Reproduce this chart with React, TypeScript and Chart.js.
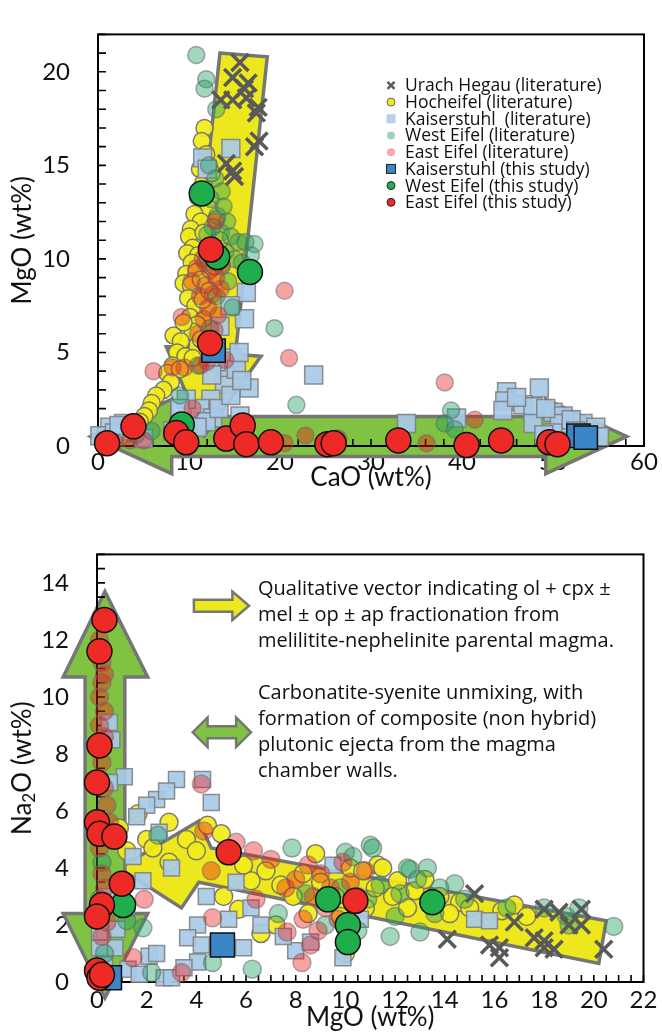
import React, { useEffect, useRef } from 'react';
import { Chart, registerables } from 'chart.js';

Chart.register(...registerables);

type Pt = [number, number];

const FONT = 'Lato, "Open Sans", sans-serif';
const TEXT_FONT = '"Open Sans", Lato, sans-serif';

const seriesNames = [
  'Urach Hegau (literature)',
  'Hocheifel (literature)',
  'Kaiserstuhl  (literature)',
  'West Eifel (literature)',
  'East Eifel (literature)',
  'Kaiserstuhl (this study)',
  'West Eifel (this study)',
  'East Eifel (this study)',
];

// ---------- Top chart: CaO (x) vs MgO (y) ----------
const topUrach: Pt[] = [
  [15.6, 20.5], [14.8, 19.7], [16.5, 19.4], [16.1, 19.1], [13.5, 18.5], [14.8, 18.5], [16.3, 18.6],
  [17.6, 18.1], [17.4, 17.8], [17.7, 16.3], [17.2, 16.0], [14.1, 15.1], [14.8, 14.7], [15.0, 14.4],
];
const topHocheifel: Pt[] = [
  [11.7, 17.0], [11.4, 16.3], [11.9, 15.6], [11.2, 14.8], [11.6, 14.1], [11.0, 13.3], [12.2, 12.7],
  [10.6, 12.4], [11.3, 12.0], [10.2, 11.6], [10.9, 11.1], [10.0, 11.2], [11.6, 11.4], [10.4, 10.6],
  [9.8, 10.3], [11.0, 10.2], [10.3, 9.8], [9.7, 9.2], [10.8, 9.3], [9.4, 8.7], [10.2, 8.6], [11.3, 8.9],
  [9.9, 7.9], [10.7, 7.5], [11.5, 7.8], [10.1, 6.9], [10.9, 6.5], [10.4, 6.1], [9.4, 6.6], [8.3, 5.9],
  [9.1, 5.6], [11.3, 5.7], [8.7, 5.0], [9.6, 4.8], [10.4, 4.7], [8.2, 4.3], [7.6, 3.9], [9.0, 4.1],
  [8.0, 3.4], [7.2, 3.0], [6.4, 2.7], [5.9, 2.3], [5.6, 1.9], [5.1, 1.6], [4.6, 1.3], [3.9, 1.0],
  [3.2, 0.7], [2.4, 0.5], [1.6, 0.3], [13.0, 12.1], [12.8, 9.6], [12.2, 8.3], [13.4, 11.0], [12.5, 14.6],
];
const topKaiserLit: Pt[] = [
  [14.6, 15.9], [11.5, 15.4], [12.0, 14.8], [16.3, 8.2], [16.1, 6.8], [16.6, 3.1], [23.7, 3.8], [13.9, 3.3],
  [12.4, 2.5], [11.2, 2.0], [12.6, 1.5], [9.7, 2.5], [14.1, 4.2], [14.8, 4.7], [13.4, 6.4], [15.2, 4.1],
  [15.5, 5.0], [14.5, 7.5], [1.3, 1.0], [2.8, 1.2], [3.6, 0.8], [9.0, 2.0], [11.9, 1.3], [8.2, 0.8],
  [0.2, 0.55], [5.0, 0.4], [13.3, 2.0], [14.6, 2.7], [15.8, 3.5], [13.0, 4.5], [12.5, 3.8], [15.6, 1.6],
  [10.9, 1.0], [1.8, 0.7], [2.3, 1.1], [48.5, 3.1], [44.9, 2.9], [44.7, 2.4], [44.5, 1.9], [46.7, 2.2],
  [47.8, 2.1], [47.8, 1.2], [50.0, 1.8], [51.1, 1.6], [50.7, 1.2], [50.0, 0.7], [53.3, 1.2], [54.7, 1.0],
  [55.1, 0.5], [33.9, 1.2], [39.4, 1.5], [46.0, 2.6], [49.2, 2.0], [52.0, 1.4], [49.0, 0.6], [52.5, 0.8],
];
const topWestLit: Pt[] = [
  [10.8, 20.9], [11.9, 19.6], [11.7, 19.1], [13.0, 18.0], [12.2, 15.0], [12.9, 14.3], [13.6, 13.6],
  [12.4, 13.2], [13.8, 12.8], [13.1, 12.3], [14.2, 12.0], [12.6, 11.7], [13.5, 11.4], [14.6, 11.2],
  [15.4, 10.9], [16.2, 10.9], [17.2, 10.8], [16.8, 10.2], [14.0, 10.4], [15.0, 10.0], [13.6, 9.6],
  [15.8, 9.8], [14.3, 8.8], [13.0, 8.0], [14.8, 7.4], [12.3, 6.3], [11.0, 4.3], [19.4, 6.3], [21.8, 2.2],
  [38.8, 1.9], [38.1, 1.2], [39.2, 0.9], [5.9, 0.8], [0.6, 0.15], [9.0, 2.7], [4.2, 0.6], [11.8, 9.8],
  [12.0, 11.3],
];
const topEastLit: Pt[] = [
  [20.5, 8.3], [21.0, 4.7], [38.1, 3.4], [41.4, 1.4], [9.2, 6.9], [6.1, 4.0], [5.0, 0.3], [22.8, 0.56],
  [20.5, 0.15], [26.4, 0.4], [36.1, 0.15], [10.4, 2.0], [3.5, 0.3], [1.8, 0.2], [11.5, 10.0], [12.3, 9.4],
  [13.0, 9.0], [11.8, 8.6], [12.6, 8.1], [13.5, 8.4], [11.2, 8.0], [12.1, 7.4], [13.2, 7.0], [11.6, 6.8],
  [12.8, 6.2], [11.0, 6.0], [10.3, 8.8], [10.8, 9.5], [13.6, 9.7], [12.9, 12.0], [14.0, 4.6], [12.0, 4.5],
  [11.3, 4.3], [9.5, 4.2], [8.2, 4.2],
];
const topKaiserStudy: Pt[] = [[12.7, 5.1], [52.8, 0.55], [53.6, 0.45]];
const topWestStudy: Pt[] = [[11.4, 13.5], [13.1, 10.1], [16.7, 9.3], [9.2, 1.15]];
const topEastStudy: Pt[] = [
  [12.4, 10.5], [12.3, 5.5], [8.6, 0.7], [9.7, 0.2], [14.1, 0.4], [15.9, 1.1], [16.3, 0.1], [19.0, 0.2],
  [25.2, 0.1], [25.9, 0.15], [33.0, 0.3], [40.5, 0.05], [44.3, 0.3], [49.6, 0.2], [50.5, 0.1], [1.0, 0.15],
  [3.9, 1.05],
];

// ---------- Bottom chart: MgO (x) vs Na2O (y) ----------
const botUrach: Pt[] = [
  [15.2, 3.1], [16.8, 2.1], [14.1, 1.5], [15.8, 1.3], [16.2, 1.2], [16.2, 0.85], [18.0, 2.55], [18.6, 2.45],
  [17.6, 1.55], [18.0, 1.45], [18.0, 1.2], [18.4, 1.15], [19.0, 2.0], [19.5, 2.55], [19.5, 2.0], [20.4, 1.15],
];
const botHocheifel: Pt[] = [
  [1.65, 5.9], [2.0, 5.0], [2.25, 4.7], [3.6, 5.0], [4.45, 5.5], [5.1, 3.0], [5.7, 2.55], [6.2, 3.55],
  [8.8, 4.5], [10.2, 4.0], [11.3, 4.1], [12.1, 3.55], [16.3, 2.5], [16.8, 2.7], [14.6, 2.8], [12.8, 3.2],
  [11.5, 4.0], [10.7, 3.9], [11.9, 3.0], [2.9, 4.2], [4.0, 4.6], [6.8, 3.9], [7.4, 3.4], [7.9, 3.0],
  [8.3, 3.8], [9.0, 3.5], [9.6, 3.0], [10.0, 1.0], [9.8, 2.3], [10.8, 2.6], [11.2, 3.3], [12.5, 2.6],
  [13.2, 3.6], [13.8, 3.0], [14.2, 2.4], [15.0, 2.6], [17.3, 2.3], [8.5, 2.4], [7.2, 2.0], [6.6, 1.7],
  [5.9, 4.1], [1.2, 4.6], [0.9, 5.4], [2.9, 5.6], [5.0, 5.2],
];
const botKaiserLit: Pt[] = [
  [0.5, 9.1], [1.1, 7.2], [3.2, 7.1], [4.25, 7.1], [4.6, 6.3], [2.4, 6.4], [2.0, 6.2], [1.45, 4.4],
  [3.0, 4.0], [2.5, 5.25], [1.85, 3.55], [4.05, 2.0], [3.65, 1.55], [4.2, 1.3], [4.05, 0.7], [5.3, 2.2],
  [5.9, 1.2], [6.6, 2.0], [0.8, 1.85], [0.72, 1.2], [1.25, 0.45], [1.7, 0.27], [2.7, 0.15], [3.0, 0.15],
  [0.1, 1.2], [0.1, 1.75], [8.0, 1.1], [9.9, 0.85], [15.2, 2.2], [15.8, 2.15], [0.6, 8.5], [0.5, 7.0],
  [1.6, 5.8], [2.8, 6.7], [4.4, 3.0], [5.6, 3.5], [6.2, 2.6], [7.5, 1.6], [8.6, 1.4], [9.5, 4.1],
  [10.6, 2.2], [0.4, 3.0], [0.3, 0.6], [2.1, 0.9], [3.5, 0.5], [1.2, 2.6], [2.4, 1.0],
];
const botWestLit: Pt[] = [
  [11.0, 4.8], [10.0, 4.55], [10.3, 4.4], [13.3, 4.0], [12.6, 3.95], [14.4, 3.45], [18.0, 2.6], [18.9, 2.3],
  [19.4, 2.6], [20.8, 1.95], [11.8, 1.6], [13.0, 1.75], [2.45, 5.15], [1.85, 1.9], [1.2, 2.15], [2.2, 0.33],
  [4.65, 0.68], [6.25, 0.45], [7.3, 2.4], [11.1, 4.7], [12.5, 4.0], [7.85, 4.7], [0.1, 2.9], [0.2, 4.2],
  [0.3, 1.0], [9.2, 2.0], [10.5, 1.8], [12.0, 2.3], [13.6, 2.4], [14.8, 2.9], [11.4, 3.4], [12.2, 3.1],
  [10.9, 2.9], [9.8, 3.3], [8.4, 3.1], [16.5, 2.6], [19.0, 2.0], [12.9, 3.6], [13.8, 3.3],
];
const botEastLit: Pt[] = [
  [0.1, 12.0], [0.2, 10.5], [0.1, 10.0], [0.3, 9.5], [0.1, 9.0], [0.3, 8.6], [0.2, 7.7], [0.3, 6.8],
  [0.4, 6.2], [0.5, 5.6], [0.1, 4.7], [0.2, 3.8], [0.3, 3.3], [0.4, 2.1], [0.2, 1.6], [0.2, 11.2],
  [0.3, 10.8], [1.9, 2.9], [4.65, 2.25], [1.45, 0.85], [3.4, 0.33], [4.3, 5.3], [4.2, 6.95], [8.25, 0.68],
  [7.65, 1.75], [6.4, 2.9], [4.6, 3.9], [8.0, 3.6], [8.5, 4.1], [9.0, 3.8], [9.4, 3.3], [8.7, 3.0],
  [9.2, 2.6], [8.3, 2.2], [9.7, 2.2], [10.2, 3.5], [10.8, 3.9], [9.9, 4.2], [8.9, 1.8], [10.5, 3.0],
  [7.6, 3.3], [8.6, 1.3], [7.0, 4.3], [6.3, 4.6], [5.6, 4.9],
];
const botKaiserStudy: Pt[] = [[5.05, 1.3], [0.5, 0.15]];
const botWestStudy: Pt[] = [[1.05, 2.7], [9.3, 2.9], [10.1, 2.0], [10.1, 1.4], [13.5, 2.8]];
const botEastStudy: Pt[] = [
  [0.3, 12.7], [0.1, 11.6], [0.1, 8.3], [0.0, 7.0], [0.0, 5.6], [0.1, 5.2], [0.7, 5.1], [1.0, 3.45],
  [0.2, 2.7], [0.0, 2.3], [0.0, 0.4], [0.1, 0.15], [0.2, 0.25], [5.3, 4.55], [10.4, 2.85],
];

// ---------- Interpretive vectors (data units) ----------
const topYellowArrow: Pt[] = [[13.4, 21.0], [18.6, 20.8], [15.1, 4.9], [17.9, 4.8], [11.7, 0.55], [7.5, 5.3], [9.9, 5.3]];
const topGreenArrow: Pt[] = [
  [-0.8, 0.51], [8.1, 2.5], [8.1, 1.58], [49.2, 1.58], [49.2, 2.5], [58.1, 0.51], [49.2, -1.48], [49.2, -0.56],
  [8.1, -0.56], [8.1, -1.48],
];
const botGreenArrow: Pt[] = [
  [0.32, 13.7], [2.04, 10.7], [1.12, 10.7], [1.12, 2.4], [2.04, 2.4], [0.32, -0.56], [-1.36, 2.4], [-0.48, 2.4],
  [-0.48, 10.7], [-1.36, 10.7],
];
const botYellowArrow: Pt[] = [[20.5, 2.15], [4.6, 4.7], [4.1, 5.65], [0.9, 4.0], [3.4, 2.6], [4.1, 3.5], [20.2, 0.65]];
const noteYellowIcon: Pt[] = [[3.9, 13.41], [5.45, 13.41], [5.45, 13.7], [6.12, 13.2], [5.45, 12.7], [5.45, 12.99], [3.9, 12.99]];
const noteGreenIcon: Pt[] = [
  [3.85, 8.76], [4.45, 9.28], [4.45, 8.97], [5.6, 8.97], [5.6, 9.28], [6.2, 8.76], [5.6, 8.24], [5.6, 8.55],
  [4.45, 8.55], [4.45, 8.24],
];
const noteYellow = ['Qualitative vector indicating ol + cpx \u00b1', 'mel \u00b1 op \u00b1 ap fractionation from', 'melilitite-nephelinite parental magma.'];
const noteGreen = ['Carbonatite-syenite unmixing, with', 'formation of composite (non hybrid)', 'plutonic ejecta from the magma', 'chamber walls.'];

const YELLOW_FILL = 'rgb(237,232,30)';
const GREEN_FILL = 'rgb(128,194,66)';
const ARROW_STROKE = 'rgb(118,118,118)';

type Style = { ps: string; bg: string; bd: string; bw: number; order: number };
const baseStyles: Style[] = [
  { ps: 'crossRot', bg: '#595959', bd: '#595959', bw: 3.5, order: 3 },
  { ps: 'circle', bg: 'rgba(242,236,24,0.92)', bd: 'rgba(110,110,110,0.9)', bw: 1.5, order: 7 },
  { ps: 'rect', bg: 'rgba(168,202,232,0.92)', bd: 'rgba(125,125,125,0.85)', bw: 1.5, order: 6 },
  { ps: 'circle', bg: 'rgba(30,160,95,0.42)', bd: 'rgba(100,100,100,0.55)', bw: 1.5, order: 5 },
  { ps: 'circle', bg: 'rgba(235,25,25,0.4)', bd: 'rgba(110,110,110,0.55)', bw: 1.5, order: 4 },
  { ps: 'rect', bg: '#3D86C6', bd: '#111', bw: 1.5, order: 2 },
  { ps: 'circle', bg: '#20AE4D', bd: '#111', bw: 1.5, order: 1 },
  { ps: 'circle', bg: '#EE2A26', bd: '#111', bw: 1.5, order: 0 },
];

function buildDatasets(series: Pt[][], radii: number[]) {
  return series.map((pts, i) => {
    const s = baseStyles[i];
    return {
      label: seriesNames[i],
      data: pts.map(([x, y]) => ({ x, y })),
      pointStyle: s.ps,
      pointRadius: radii[i],
      pointHoverRadius: radii[i],
      backgroundColor: s.bg,
      borderColor: s.bd,
      borderWidth: s.bw,
      order: s.order,
      clip: false,
      showLine: false,
    };
  });
}

function polygon(ctx: CanvasRenderingContext2D, chart: any, pts: Pt[], fill: string, lw: number) {
  const { x, y } = chart.scales;
  ctx.beginPath();
  pts.forEach(([a, b], i) => {
    const px = x.getPixelForValue(a);
    const py = y.getPixelForValue(b);
    if (i === 0) ctx.moveTo(px, py);
    else ctx.lineTo(px, py);
  });
  ctx.closePath();
  ctx.fillStyle = fill;
  ctx.fill();
  ctx.lineWidth = lw;
  ctx.strokeStyle = ARROW_STROKE;
  ctx.lineJoin = 'miter';
  ctx.stroke();
}

type DecorCfg = {
  arrows: { pts: Pt[]; fill: string }[];
  xTitle: string;
  yTitle: 'MgO' | 'Na2O';
  xTitleOffset: number;
  legend?: boolean;
  notes?: boolean;
};

const legendMarks = [
  { shape: 'x', fill: '#595959', stroke: '' },
  { shape: 'circle', fill: 'rgb(240,232,30)', stroke: '#666' },
  { shape: 'square', fill: 'rgb(182,208,234)', stroke: '' },
  { shape: 'circle', fill: 'rgb(160,212,186)', stroke: '' },
  { shape: 'circle', fill: 'rgb(244,168,168)', stroke: '' },
  { shape: 'square', fill: '#3D86C6', stroke: '#222' },
  { shape: 'circle', fill: '#20AE4D', stroke: '#222' },
  { shape: 'circle', fill: '#EE2A26', stroke: '#222' },
];

function makeDecor(cfg: DecorCfg) {
  return {
    id: 'decor',
    beforeDatasetsDraw(chart: any) {
      const { ctx, chartArea: a, scales } = chart;
      ctx.save();
      cfg.arrows.forEach((ar) => polygon(ctx, chart, ar.pts, ar.fill, 3.5));
      ctx.strokeStyle = '#000';
      ctx.lineWidth = 2;
      ctx.strokeRect(a.left, a.top, a.right - a.left, a.bottom - a.top);
      ctx.lineWidth = 1.6;
      ctx.beginPath();
      scales.x.ticks.forEach((t: any) => {
        const px = scales.x.getPixelForValue(t.value);
        ctx.moveTo(px, a.bottom);
        ctx.lineTo(px, a.bottom - 7);
      });
      scales.y.ticks.forEach((t: any) => {
        const py = scales.y.getPixelForValue(t.value);
        ctx.moveTo(a.left, py);
        ctx.lineTo(a.left + 8, py);
      });
      ctx.stroke();
      ctx.restore();
    },
    afterDraw(chart: any) {
      const { ctx, chartArea: a } = chart;
      ctx.save();
      ctx.fillStyle = '#111';
      ctx.font = `26px ${FONT}`;
      ctx.textAlign = 'center';
      ctx.textBaseline = 'middle';
      ctx.fillText(cfg.xTitle, (a.left + a.right) / 2, a.bottom + cfg.xTitleOffset);
      ctx.translate(23, (a.top + a.bottom) / 2);
      ctx.rotate(-Math.PI / 2);
      if (cfg.yTitle === 'MgO') {
        ctx.fillText('MgO (wt%)', 0, 0);
      } else {
        const big = `26px ${FONT}`;
        const small = `17px ${FONT}`;
        ctx.font = big;
        const w1 = ctx.measureText('Na').width;
        const w3 = ctx.measureText('O (wt%)').width;
        ctx.font = small;
        const w2 = ctx.measureText('2').width;
        let sx = -(w1 + w2 + w3) / 2;
        ctx.textAlign = 'left';
        ctx.font = big;
        ctx.fillText('Na', sx, 0);
        sx += w1;
        ctx.font = small;
        ctx.fillText('2', sx, 7);
        sx += w2;
        ctx.font = big;
        ctx.fillText('O (wt%)', sx, 0);
      }
      ctx.setTransform(1, 0, 0, 1, 0, 0);

      if (cfg.legend) {
        const lx = a.left + 293;
        const ly = a.top + 51;
        ctx.font = `17.5px ${TEXT_FONT}`;
        ctx.textAlign = 'left';
        ctx.textBaseline = 'middle';
        seriesNames.forEach((name, i) => {
          const cy = ly + i * 16.7;
          const m = legendMarks[i];
          if (m.shape === 'x') {
            ctx.strokeStyle = m.fill;
            ctx.lineWidth = 2.5;
            ctx.beginPath();
            ctx.moveTo(lx - 3.5, cy - 3.5);
            ctx.lineTo(lx + 3.5, cy + 3.5);
            ctx.moveTo(lx + 3.5, cy - 3.5);
            ctx.lineTo(lx - 3.5, cy + 3.5);
            ctx.stroke();
          } else if (m.shape === 'circle') {
            ctx.beginPath();
            ctx.arc(lx, cy, 4, 0, Math.PI * 2);
            ctx.fillStyle = m.fill;
            ctx.fill();
            if (m.stroke) {
              ctx.strokeStyle = m.stroke;
              ctx.lineWidth = 1;
              ctx.stroke();
            }
          } else {
            ctx.fillStyle = m.fill;
            ctx.fillRect(lx - 4.5, cy - 4.5, 9, 9);
            if (m.stroke) {
              ctx.strokeStyle = m.stroke;
              ctx.lineWidth = 1;
              ctx.strokeRect(lx - 4.5, cy - 4.5, 9, 9);
            }
          }
          ctx.fillStyle = '#111';
          ctx.fillText(name, lx + 14, cy + 1);
        });
      }

      if (cfg.notes) {
        polygon(ctx, chart, noteYellowIcon, YELLOW_FILL, 2.5);
        polygon(ctx, chart, noteGreenIcon, GREEN_FILL, 2.5);
        ctx.fillStyle = '#111';
        ctx.font = `20px ${TEXT_FONT}`;
        ctx.textAlign = 'left';
        ctx.textBaseline = 'alphabetic';
        const tx = chart.scales.x.getPixelForValue(6.48);
        noteYellow.forEach((t, i) => ctx.fillText(t, tx, a.top + 41 + i * 26));
        noteGreen.forEach((t, i) => ctx.fillText(t, tx, a.top + 145 + i * 26));
      }
      ctx.restore();
    },
  };
}

function makeConfig(opts: {
  datasets: any[];
  xMin: number; xMax: number; xStep: number; xLabelEvery: number;
  yMin: number; yMax: number; yStep: number; yLabelEvery: number;
  yWidth: number; xHeight: number; padTop: number; padRight: number; xPad: number;
  decor: DecorCfg;
}) {
  const tickFont = { family: FONT, size: 24 };
  const labelFn = (every: number) => (v: number) => {
    const r = Math.round(v * 1000) / 1000;
    return Math.abs(r / every - Math.round(r / every)) < 1e-6 ? String(r) : '';
  };
  return {
    type: 'scatter' as const,
    data: { datasets: opts.datasets },
    options: {
      animation: false,
      responsive: false,
      events: [],
      layout: { padding: { left: 0, top: opts.padTop, right: opts.padRight, bottom: 0 } },
      plugins: { legend: { display: false }, tooltip: { enabled: false } },
      scales: {
        x: {
          type: 'linear',
          min: opts.xMin,
          max: opts.xMax,
          grid: { display: false },
          border: { display: false },
          ticks: {
            stepSize: opts.xStep,
            autoSkip: false,
            maxRotation: 0,
            padding: opts.xPad,
            color: '#111',
            font: tickFont,
            callback: labelFn(opts.xLabelEvery),
          },
          afterFit: (s: any) => { s.height = opts.xHeight; },
        },
        y: {
          type: 'linear',
          min: opts.yMin,
          max: opts.yMax,
          grid: { display: false },
          border: { display: false },
          ticks: {
            stepSize: opts.yStep,
            autoSkip: false,
            padding: 20,
            color: '#111',
            font: tickFont,
            callback: labelFn(opts.yLabelEvery),
          },
          afterFit: (s: any) => { s.width = opts.yWidth; },
        },
      },
    },
    plugins: [makeDecor(opts.decor)],
  };
}

const topRadii = [12, 8.5, 12.7, 8.5, 8.5, 16.5, 12.5, 12.5];
const botRadii = [12, 9, 11.3, 9, 9, 17, 12.5, 12.5];

export default function App() {
  const topRef = useRef<HTMLCanvasElement>(null);
  const botRef = useRef<HTMLCanvasElement>(null);

  useEffect(() => {
    const top = new Chart(topRef.current as HTMLCanvasElement, makeConfig({
      datasets: buildDatasets(
        [topUrach, topHocheifel, topKaiserLit, topWestLit, topEastLit, topKaiserStudy, topWestStudy, topEastStudy],
        topRadii,
      ),
      xMin: 0, xMax: 60, xStep: 2, xLabelEvery: 10,
      yMin: 0, yMax: 22, yStep: 1, yLabelEvery: 5,
      yWidth: 98, xHeight: 54, padTop: 14, padRight: 16, xPad: -6,
      decor: {
        arrows: [
          { pts: topGreenArrow, fill: GREEN_FILL },
          { pts: topYellowArrow, fill: YELLOW_FILL },
        ],
        xTitle: 'CaO (wt%)',
        yTitle: 'MgO',
        xTitleOffset: 32,
        legend: true,
      },
    }) as any);
    const bot = new Chart(botRef.current as HTMLCanvasElement, makeConfig({
      datasets: buildDatasets(
        [botUrach, botHocheifel, botKaiserLit, botWestLit, botEastLit, botKaiserStudy, botWestStudy, botEastStudy],
        botRadii,
      ),
      xMin: 0, xMax: 22, xStep: 0.5, xLabelEvery: 2,
      yMin: 0, yMax: 15, yStep: 0.5, yLabelEvery: 2,
      yWidth: 97, xHeight: 50, padTop: 31, padRight: 16, xPad: -4,
      decor: {
        arrows: [
          { pts: botYellowArrow, fill: YELLOW_FILL },
          { pts: botGreenArrow, fill: GREEN_FILL },
        ],
        xTitle: 'MgO (wt%)',
        yTitle: 'Na2O',
        xTitleOffset: 36,
        notes: true,
      },
    }) as any);
    return () => {
      top.destroy();
      bot.destroy();
    };
  }, []);

  return (
    <div style={{ position: 'absolute', left: 0, top: 0, width: 662, height: 1032, background: '#fff' }}>
      <canvas ref={topRef} width={662} height={500} style={{ position: 'absolute', left: 0, top: 0, width: 662, height: 500 }} />
      <canvas ref={botRef} width={662} height={512} style={{ position: 'absolute', left: 0, top: 520, width: 662, height: 512 }} />
    </div>
  );
}
